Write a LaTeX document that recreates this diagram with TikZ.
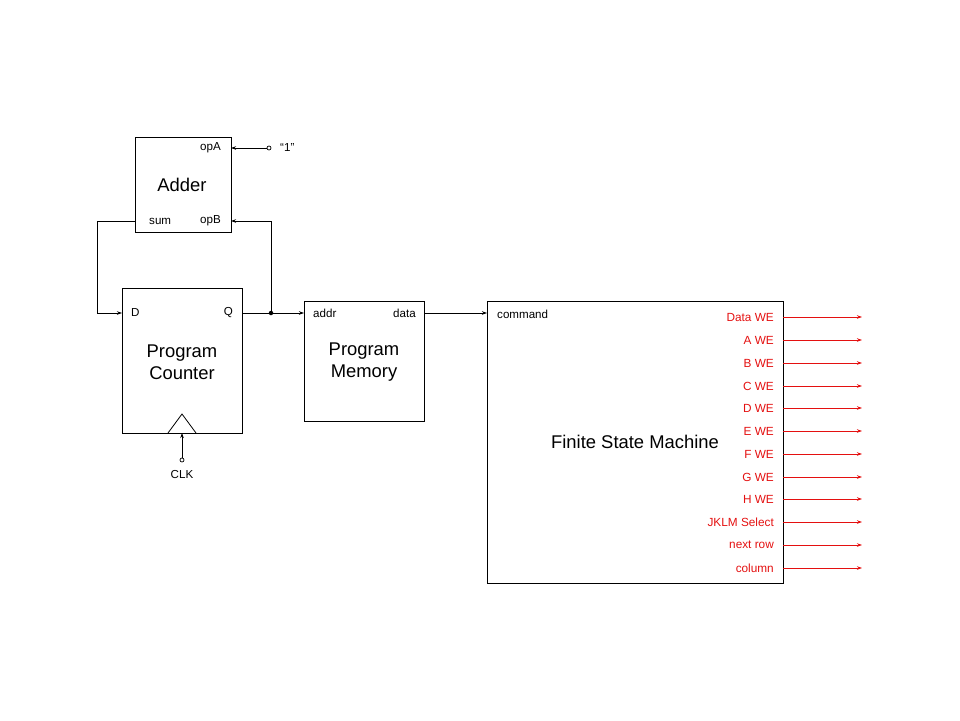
\documentclass[tikz,border=0pt]{standalone}
\usepackage{fontspec}
\setmainfont{Liberation Sans}
\usetikzlibrary{arrows.meta}
\definecolor{sigred}{RGB}{228,16,16}
\begin{document}
\begin{tikzpicture}[x=1pt,y=-1pt,
  blk/.style={draw,line width=0.8pt},
  wire/.style={line width=0.8pt},
  arr/.style={wire,-{Stealth[length=5pt,width=3.5pt]}},
  lbl/.style={font=\fontsize{11.6}{13}\selectfont,inner sep=0pt},
  ttl/.style={font=\fontsize{18.4}{22}\selectfont,align=center,inner sep=0pt},
  rarr/.style={line width=0.8pt,draw=sigred,-{Stealth[length=5pt,width=3.5pt]}},
  rlbl/.style={font=\fontsize{11.8}{13}\selectfont,text=sigred,anchor=east,inner sep=0pt},
  term/.style={circle,draw,fill=white,inner sep=0pt,minimum size=4pt,line width=0.7pt},
  jdot/.style={circle,fill=black,inner sep=0pt,minimum size=4.5pt}]
\useasboundingbox (0,0) rectangle (960,720);
% boxes
\draw[blk] (135,137) rectangle (231,232);
\coordinate (adderA) at (231,148);
\coordinate (adderB) at (231,221);
\coordinate (adderS) at (135,221);
\draw[blk] (122,288) rectangle (242,433);
\coordinate (pcD) at (122,313);
\coordinate (pcQ) at (242,313);
\draw[blk] (304,301) rectangle (424,421);
\coordinate (pmA) at (304,313);
\coordinate (pmD) at (424,313);
\draw[blk] (487,301) rectangle (783,583);
\coordinate (fsmC) at (487,313);
% titles
\node[ttl] (adder) at (182,185) {Adder};
\node[ttl] (pc) at (182,362) {Program\\Counter};
\node[ttl] (pm) at (364,362) {Program\\Memory};
\node[ttl] (fsm) at (635,442) {Finite State Machine};
% port labels
\node[lbl,anchor=east] (opA) at (221,148) {opA};
\node[lbl,anchor=west] (sum) at (149,221) {sum};
\node[lbl,anchor=east] (opB) at (221,221) {opB};
\node[lbl,anchor=west] (D) at (131,313) {D};
\node[lbl,anchor=east] (Q) at (233,313) {Q};
\node[lbl,anchor=west] (addr) at (313,313) {addr};
\node[lbl,anchor=east] (data) at (416,313) {data};
\node[lbl,anchor=west] (command) at (497,314) {command};
% clock triangle
\draw[wire] (168,433) -- (182,414) -- (196,433);
% terminals
\node[term] (one) at (269,148) {};
\node[lbl,anchor=west] (onelbl) at (280,148) {“1”};
\node[term] (clk) at (182,460) {};
\node[lbl] (clklbl) at (182,474) {CLK};
\coordinate (clkin) at (182,433);
\node[jdot] (j) at (271,313) {};
% wires
\draw[arr] (one) -- (adderA);
\draw[arr] (clk) -- (clkin);
\draw[arr] (adderS) -- (97,221) -- (97,313) -- (pcD);
\draw[wire] (pcQ) -- (j);
\draw[arr] (j) -- (pmA);
\draw[arr] (j) -- (271,221) -- (adderB);
\draw[arr] (pmD) -- (fsmC);
% outputs
\foreach \y/\t [count=\i] in {317/Data WE,340/A WE,363/B WE,386/C WE,408/D WE,431/E WE,454/F WE,477/G WE,499/H WE,522/JKLM Select,545/next row,568/column}{
  \node[rlbl] (o\i) at (774,\y) {\t};
  \coordinate (os\i) at (783,\y);
  \coordinate (oe\i) at (862,\y);
  \draw[rarr] (os\i) -- (oe\i);
}
\end{tikzpicture}
\end{document}
